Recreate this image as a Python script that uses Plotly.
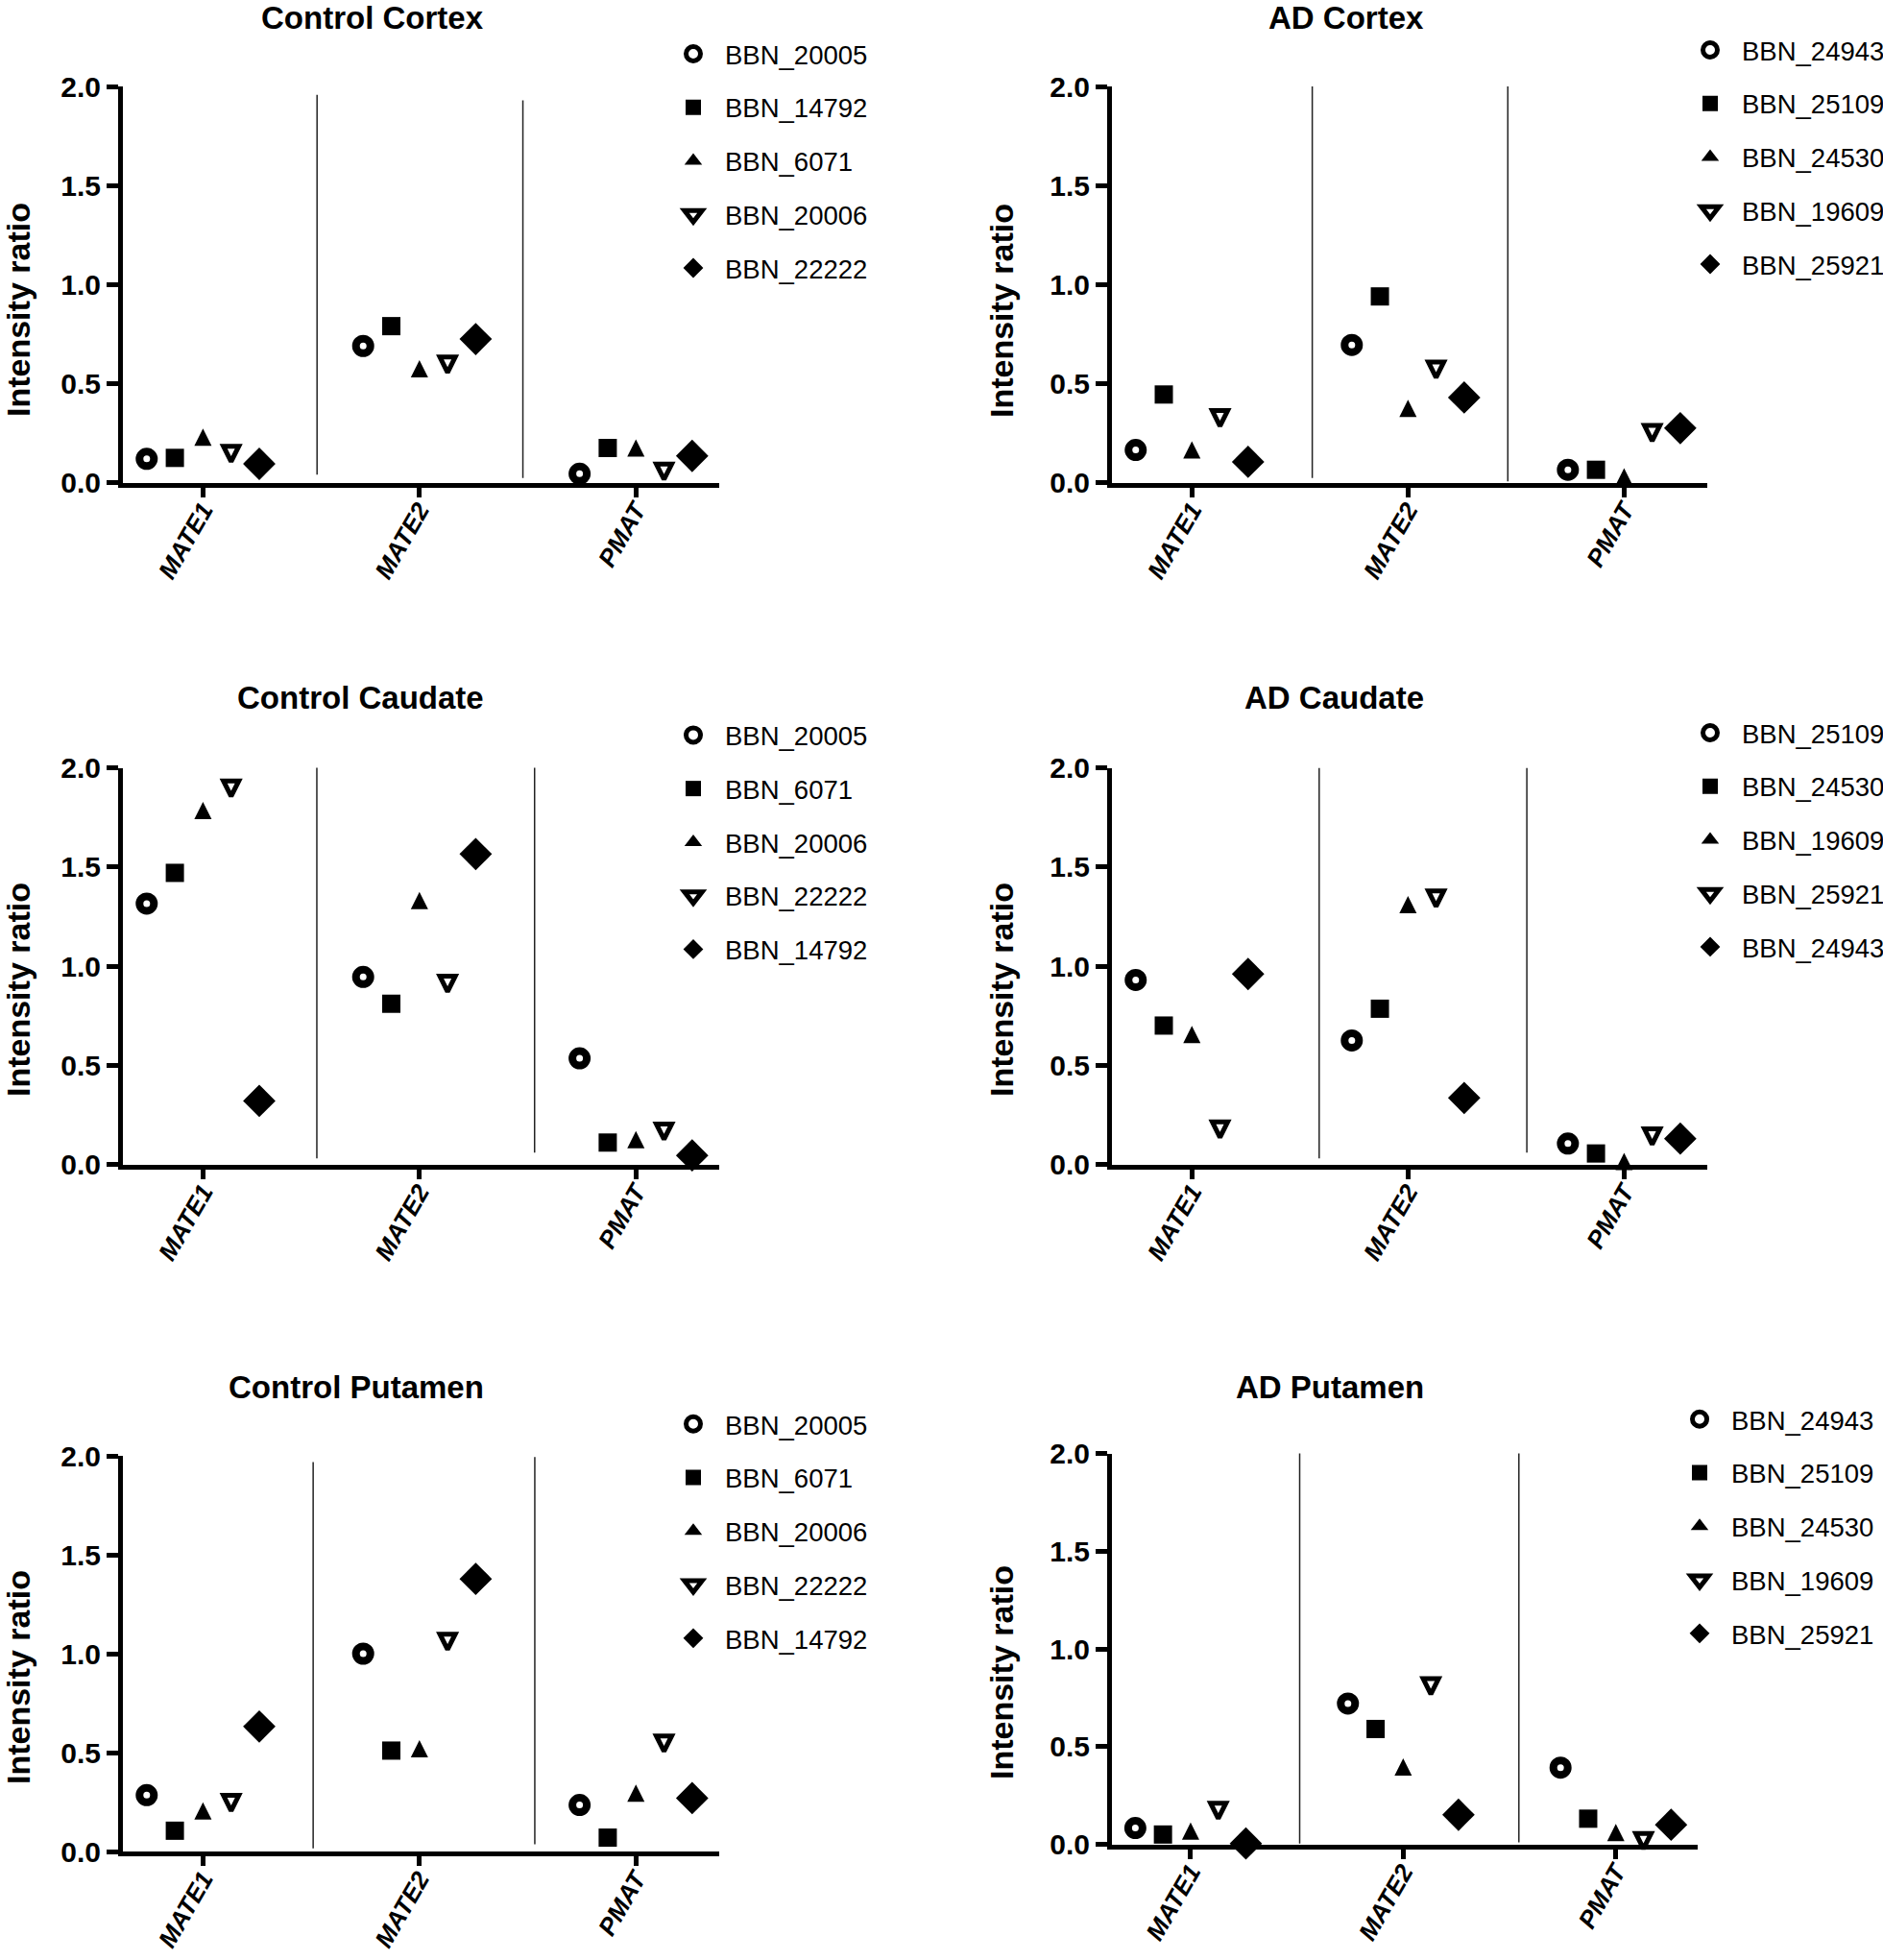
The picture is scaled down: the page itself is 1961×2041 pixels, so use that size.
import plotly.graph_objects as go

# ---------------- data ----------------
categories = ["MATE1", "MATE2", "PMAT"]

titles = ["Control Cortex", "AD Cortex", "Control Caudate",
          "AD Caudate", "Control Putamen", "AD Putamen"]

subjects_control_cortex = ["BBN_20005", "BBN_14792", "BBN_6071", "BBN_20006", "BBN_22222"]
subjects_ad_cortex = ["BBN_24943", "BBN_25109", "BBN_24530", "BBN_19609", "BBN_25921"]
subjects_control_caudate = ["BBN_20005", "BBN_6071", "BBN_20006", "BBN_22222", "BBN_14792"]
subjects_ad_caudate = ["BBN_25109", "BBN_24530", "BBN_19609", "BBN_25921", "BBN_24943"]
subjects_control_putamen = ["BBN_20005", "BBN_6071", "BBN_20006", "BBN_22222", "BBN_14792"]
subjects_ad_putamen = ["BBN_24943", "BBN_25109", "BBN_24530", "BBN_19609", "BBN_25921"]

# values per subject: [MATE1, MATE2, PMAT]
values_control_cortex = [
    [0.12, 0.69, 0.045],
    [0.125, 0.79, 0.175],
    [0.23, 0.575, 0.175],
    [0.145, 0.595, 0.055],
    [0.095, 0.725, 0.135],
]
values_ad_cortex = [
    [0.165, 0.695, 0.065],
    [0.445, 0.94, 0.065],
    [0.165, 0.375, 0.03],
    [0.325, 0.57, 0.25],
    [0.105, 0.43, 0.275],
]
values_control_caudate = [
    [1.315, 0.945, 0.535],
    [1.47, 0.81, 0.11],
    [1.785, 1.33, 0.125],
    [1.895, 0.91, 0.165],
    [0.32, 1.565, 0.045],
]
values_ad_caudate = [
    [0.93, 0.625, 0.105],
    [0.70, 0.785, 0.055],
    [0.655, 1.31, 0.015],
    [0.175, 1.34, 0.14],
    [0.96, 0.335, 0.13],
]
values_control_putamen = [
    [0.285, 1.0, 0.235],
    [0.105, 0.51, 0.07],
    [0.205, 0.52, 0.295],
    [0.245, 1.06, 0.545],
    [0.632, 1.378, 0.27],
]
values_ad_putamen = [
    [0.083, 0.72, 0.392],
    [0.05, 0.59, 0.131],
    [0.068, 0.396, 0.06],
    [0.171, 0.808, 0.016],
    [0.004, 0.151, 0.10],
]

y_tick_values = [0.0, 0.5, 1.0, 1.5, 2.0]

panel_subjects = [subjects_control_cortex, subjects_ad_cortex, subjects_control_caudate,
                  subjects_ad_caudate, subjects_control_putamen, subjects_ad_putamen]
panel_values = [values_control_cortex, values_ad_cortex, values_control_caudate,
                values_ad_caudate, values_control_putamen, values_ad_putamen]

# ---------------- layout / style ----------------
W, H = 1961, 2041
FONT = "Arial, Liberation Sans, Helvetica, sans-serif"

# marker styles in the plot: circle-open, square, up-triangle, down-triangle-open, diamond
marker_styles = [
    dict(symbol="circle-open", size=15, line=dict(color="black", width=8)),
    dict(symbol="square", size=19, line=dict(color="black", width=0)),
    dict(symbol="arrow-down", size=18, angle=180, standoff=9,
         line=dict(color="black", width=0)),
    dict(symbol="arrow-down-open", size=16, angle=0, standoff=8,
         line=dict(color="black", width=5)),
    dict(symbol="diamond", size=26, line=dict(color="black", width=0)),
]
# legend swatches (the legend ignores marker standoff, so use centred symbols there)
legend_styles = [
    None,
    None,
    dict(symbol="triangle-up", size=16, line=dict(color="black", width=0)),
    dict(symbol="triangle-down-open", size=16, line=dict(color="black", width=5)),
    None,
]
offsets = [-0.26, -0.13, 0.0, 0.13, 0.26]

# plot-area pixel boxes: (left, right, top(y=2), bottom(y=0))
boxes = [
    (128, 749, 90, 502.6),
    (1158, 1778, 90, 502.6),
    (128, 749, 799.5, 1212.5),
    (1158, 1778, 799.5, 1212.5),
    (128, 749, 1516, 1928),
    (1158, 1768, 1513.5, 1920.5),
]
# separator lines (x, y0, y1) in data units
separators = [
    [(0.527, 0.04, 1.958), (1.478, 0.024, 1.93)],
    [(0.557, 0.024, 2.018), (1.462, 0.006, 2.038)],
    [(0.526, 0.03, 2.03), (1.532, 0.059, 2.044)],
    [(0.589, 0.03, 2.0), (1.55, 0.059, 2.0)],
    [(0.509, 0.016, 1.968), (1.533, 0.036, 1.994)],
    [(0.513, 0.004, 2.026), (1.544, 0.01, 2.016)],
]
# titles: right edge x, center y (px)
title_pos = [(506, 18), (1485, 18), (506, 727), (1485, 727), (506, 1444), (1485, 1444)]
# y-axis titles: center (px)
ytitle_pos = [(19, 323), (1043, 324), (19, 1031), (1043, 1031), (19, 1747), (1043, 1742)]
# legends: left x, top y (px)
legend_pos = [(689, 31.6), (1748, 27.6), (689, 741), (1748, 738.6), (689, 1458.4), (1737, 1453.4)]

fig = go.Figure()
layout = dict(
    width=W, height=H,
    margin=dict(l=0, r=0, t=0, b=0, autoexpand=False),
    paper_bgcolor="white", plot_bgcolor="white",
    font=dict(family=FONT, color="black"),
    showlegend=True,
    shapes=[], annotations=[],
)

for p in range(6):
    n = p + 1
    xa = "x" if n == 1 else f"x{n}"
    ya = "y" if n == 1 else f"y{n}"
    lg = "legend" if n == 1 else f"legend{n}"
    left, right, top, bottom = boxes[p]

    for i, (name, vals) in enumerate(zip(panel_subjects[p], panel_values[p])):
        xs = [c + offsets[i] for c in range(len(categories))]
        group = f"p{n}_{i}"
        has_proxy = legend_styles[i] is not None
        fig.add_trace(go.Scatter(
            x=xs, y=vals, mode="markers", name=name,
            xaxis=xa, yaxis=ya, legend=lg, legendgroup=group,
            showlegend=not has_proxy,
            cliponaxis=False,
            marker=dict(color="black", **marker_styles[i]),
        ))
        if has_proxy:
            fig.add_trace(go.Scatter(
                x=[None], y=[None], mode="markers", name=name,
                xaxis=xa, yaxis=ya, legend=lg, legendgroup=group,
                showlegend=True, hoverinfo="skip",
                marker=dict(color="black", **legend_styles[i]),
            ))

    xkey = "xaxis" if n == 1 else f"xaxis{n}"
    ykey = "yaxis" if n == 1 else f"yaxis{n}"
    layout[xkey] = dict(
        domain=[left / W, right / W], anchor=ya,
        range=[-0.37, 2.385], tickmode="array",
        tickvals=list(range(len(categories))),
        ticktext=[f"<b><i>{c}</i></b>" for c in categories],
        tickangle=-60, tickfont=dict(size=26, family=FONT, color="black"),
        ticklabelstandoff=-12,
        showgrid=False, zeroline=False, showline=True, linewidth=5, linecolor="black",
        ticks="outside", ticklen=10, tickwidth=5, tickcolor="black",
        fixedrange=True,
    )
    layout[ykey] = dict(
        domain=[1 - bottom / H, 1 - top / H], anchor=xa,
        range=[0, 2], tickmode="array", tickvals=y_tick_values,
        ticktext=[f"<b>{v:.1f}</b>" for v in y_tick_values],
        tickfont=dict(size=30, family=FONT, color="black"),
        showgrid=False, zeroline=False, showline=True, linewidth=5, linecolor="black",
        ticks="outside", ticklen=12, tickwidth=5, tickcolor="black",
        fixedrange=True,
    )
    lx, ly = legend_pos[p]
    layout[lg] = dict(
        x=lx / W, y=1 - ly / H, xanchor="left", yanchor="top",
        font=dict(size=27.5, family=FONT, color="black"),
        itemwidth=56, tracegroupgap=17, bgcolor="rgba(0,0,0,0)",
        traceorder="grouped",
    )
    for (sx, sy0, sy1) in separators[p]:
        layout["shapes"].append(dict(
            type="line", xref=xa, yref=ya, x0=sx, x1=sx, y0=sy0, y1=sy1,
            line=dict(color="#222222", width=1.5),
        ))
    tx, ty = title_pos[p]
    layout["annotations"].append(dict(
        text=f"<b>{titles[p]}</b>", xref="paper", yref="paper",
        x=tx / W, y=1 - ty / H, xanchor="right", yanchor="middle",
        showarrow=False, font=dict(size=33, family=FONT, color="black"),
    ))
    yx, yy = ytitle_pos[p]
    layout["annotations"].append(dict(
        text="<b>Intensity ratio</b>", xref="paper", yref="paper",
        x=yx / W, y=1 - yy / H, xanchor="center", yanchor="middle",
        textangle=-90, showarrow=False,
        font=dict(size=34, family=FONT, color="black"),
    ))

fig.update_layout(**layout)
fig.write_html("out.html",
               config={"displayModeBar": False},
               post_script="document.body.style.margin='0px';document.body.style.overflow='hidden';")
